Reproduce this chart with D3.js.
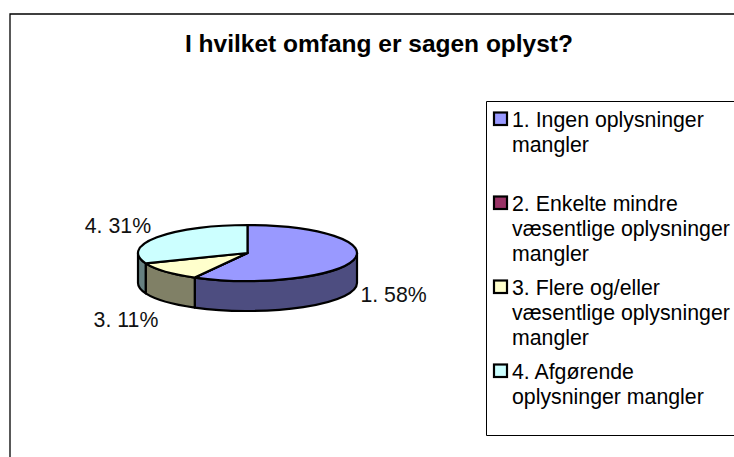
<!DOCTYPE html>
<html>
<head>
<meta charset="utf-8">
<script src="https://cdn.jsdelivr.net/npm/d3@7"></script>
<style>
  html, body { margin: 0; padding: 0; background: #fff; }
  svg { display: block; }
  text { font-family: "Liberation Sans", Arial, sans-serif; fill: #000; }
</style>
</head>
<body>
<div id="chart"></div>
<script>
var title = "I hvilket omfang er sagen oplyst?";
var categories = ["1", "2", "3", "4"];
var shares = [58, 0, 11, 31];
var legendLines = [
    ["1. Ingen oplysninger", "mangler"],
    ["2. Enkelte mindre", "væsentlige oplysninger", "mangler"],
    ["3. Flere og/eller", "væsentlige oplysninger", "mangler"],
    ["4. Afgørende", "oplysninger mangler"]
];
var pieLabels = ["1. 58%", "", "3. 11%", "4. 31%"];
var topColors = ["#9999FF", "#993366", "#FFFFCC", "#CCFFFF"];
var sideColors = ["#4D4D80", "#4D1A33", "#808066", "#668080"];

var width = 734, height = 457;
var fontSize = 21.3;

var svg = d3.select("#chart")
    .append("svg")
    .attr("width", width)
    .attr("height", height);

// chart frame, cropped at the right and bottom
svg.append("path")
    .attr("d", "M10,457V14H734")
    .attr("fill", "none")
    .attr("stroke", "#000")
    .attr("stroke-width", 1.3);

svg.append("text")
    .attr("x", 379)
    .attr("y", 52)
    .attr("font-weight", "bold")
    .style("font-size", "24.5px")
    .style("text-anchor", "middle")
    .text(title);

// pie: a flat d3.arc squashed into an ellipse
var cx = 247.5, cy = 253, rx = 109.5, ry = 28, depth = 30;
var squash = ry / rx;

var pie = d3.pie().sort(null).value(function (d) { return d; });
var slices = pie(shares);

var arc = d3.arc().innerRadius(0).outerRadius(rx);

var pieG = svg.append("g")
    .attr("transform", "translate(" + cx + "," + cy + ") scale(1," + squash + ")");

// only the front half of the rim is visible
function sidePath(d) {
    var a0 = Math.max(d.startAngle, Math.PI / 2) - Math.PI / 2;
    var a1 = Math.min(d.endAngle, Math.PI * 1.5) - Math.PI / 2;
    var dy = depth / squash;
    var p = d3.path();
    p.arc(0, 0, rx, a0, a1);
    p.lineTo(rx * Math.cos(a1), rx * Math.sin(a1) + dy);
    p.arc(0, dy, rx, a1, a0, true);
    p.closePath();
    return p.toString();
}

pieG.selectAll(".side")
    .data(slices.filter(function (d) {
        return d.endAngle > d.startAngle && d.endAngle > Math.PI / 2;
    }))
    .enter().append("path")
    .attr("class", "side")
    .attr("d", sidePath)
    .attr("fill", function (d) { return sideColors[d.index]; })
    .attr("stroke", "#000")
    .attr("stroke-width", 2.2)
    .attr("stroke-linejoin", "round")
    .attr("vector-effect", "non-scaling-stroke");

pieG.selectAll(".top")
    .data(slices)
    .enter().append("path")
    .attr("class", "top")
    .attr("d", arc)
    .attr("fill", function (d) { return topColors[d.index]; })
    .attr("stroke", "#000")
    .attr("stroke-width", 2.2)
    .attr("stroke-linejoin", "round")
    .attr("vector-effect", "non-scaling-stroke");

// labels sit outside the slice, pushed by hand from the slice middle
var labelNudge = [[40, 42.5], [0, 0], [-39.4, 55.5], [-39, -3.8]];

svg.selectAll(".pie-label")
    .data(slices.filter(function (d) { return pieLabels[d.index] !== ""; }))
    .enter().append("text")
    .attr("class", "pie-label")
    .attr("x", function (d) {
        var mid = (d.startAngle + d.endAngle) / 2;
        return cx + rx * Math.sin(mid) + labelNudge[d.index][0];
    })
    .attr("y", function (d) {
        var mid = (d.startAngle + d.endAngle) / 2;
        return cy - ry * Math.cos(mid) + labelNudge[d.index][1];
    })
    .style("font-size", fontSize + "px")
    .style("text-anchor", "middle")
    .style("fill", "#111")
    .text(function (d) { return pieLabels[d.index]; });

// legend
svg.append("path")
    .attr("d", "M734,101.5H486.5V435.5H734")
    .attr("fill", "none")
    .attr("stroke", "#000")
    .attr("stroke-width", 1);

var legendY = d3.scalePoint()
    .domain(categories)
    .range([112.5, 364.5]);

var items = svg.selectAll(".legend-item")
    .data(categories)
    .enter().append("g")
    .attr("class", "legend-item")
    .attr("transform", function (d) { return "translate(0," + legendY(d) + ")"; });

items.append("rect")
    .attr("x", 494)
    .attr("y", 0)
    .attr("width", 13)
    .attr("height", 12.5)
    .attr("fill", function (d, i) { return topColors[i]; })
    .attr("stroke", "#000")
    .attr("stroke-width", 2.2);

items.each(function (d, i) {
    d3.select(this).selectAll("text")
        .data(legendLines[i])
        .enter().append("text")
        .attr("x", 512)
        .attr("y", function (line, j) { return 14 + j * 25; })
        .style("font-size", fontSize + "px")
        .text(function (line) { return line; });
});
</script>
</body>
</html>
